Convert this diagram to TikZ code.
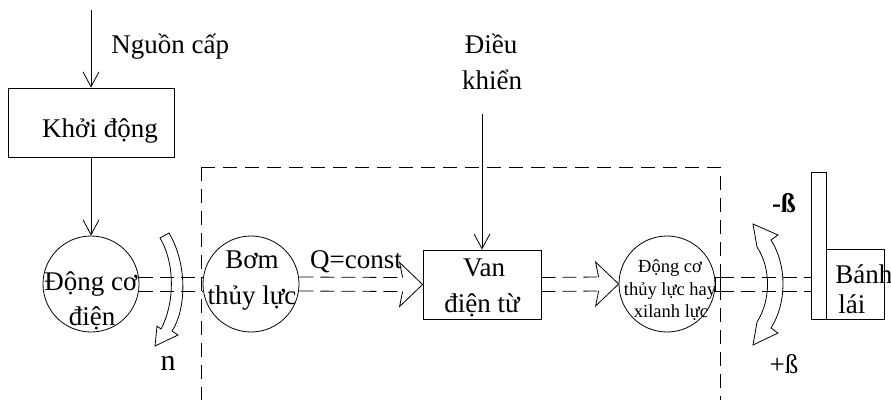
\documentclass[tikz,border=0pt]{standalone}
\usepackage{fontspec}
\setmainfont{Liberation Serif}
\usetikzlibrary{arrows.meta}

% open "fat" arrow head for the hydraulic flow, tip at #1
\newcommand\fathead[1]{%
  \draw[line join=miter] ([shift={(-20pt,7pt)}]#1) -- ([shift={(-23pt,22pt)}]#1) -- (#1)
    -- ([shift={(-23pt,-22pt)}]#1) -- ([shift={(-20pt,-7pt)}]#1);}

\begin{document}
\begin{tikzpicture}[x=1pt,y=-1pt,line width=0.8pt,
  blk/.style={draw,inner sep=0pt},
  unit/.style={draw,circle,inner sep=0pt,minimum size=96pt},
  txt/.style={inner sep=0pt,anchor=base,font=\fontsize{27}{32}\selectfont},
  small/.style={inner sep=0pt,anchor=base,font=\fontsize{18.5}{22}\selectfont},
  feed/.style={-{Straight Barb[length=15pt,width=16pt]}},
  shaft/.style={dash pattern=on 14pt off 7pt},
  frame/.style={dash pattern=on 14pt off 8pt}]
\useasboundingbox (0,0) rectangle (891,400);

% blocks
\node[blk,minimum width=166pt,minimum height=69pt] (kd) at (91,122.5) {};
\node[unit] (dc) at (91,284) {};
\node[unit] (bom) at (251,284) {};
\node[blk,minimum width=118pt,minimum height=69pt] (van) at (482,284.5) {};
\node[unit] (dtl) at (667,284) {};
\node[blk,minimum width=5pt,minimum height=14pt] (stub) at (717.5,284) {};
\node[blk,minimum width=15pt,minimum height=147pt] (bar) at (818.5,245.5) {};
\node[blk,minimum width=58pt,minimum height=70pt] (bl) at (855,284) {};

% control boundary (open at the bottom)
\coordinate (fa) at (201,167);
\coordinate (fb) at (201,400);
\coordinate (fc) at (720,167);
\coordinate (fd) at (720,400);
\draw[frame] (fa) -- (fb);
\draw[frame] (fa) -- (fc) -- (fd);

% supply and control inputs
\coordinate (src) at (91,10);
\coordinate (ctl) at (482,114);
\draw[feed] (src) -- (kd.north);
\draw[feed] (kd.south) -- (dc.north);
\draw[feed] (ctl) -- (van.north);

% mechanical / hydraulic links
\draw[shaft] ([yshift=7pt]dc.east) -- ([yshift=7pt]bom.west);
\draw[shaft] ([yshift=-7pt]dc.east) -- ([yshift=-7pt]bom.west);
\draw[shaft] ([yshift=7pt]bom.east) -- ([shift={(-20pt,7pt)}]van.west);
\draw[shaft] ([yshift=-7pt]bom.east) -- ([shift={(-20pt,-7pt)}]van.west);
\fathead{van.west}
\draw[shaft] ([yshift=7pt]van.east) -- ([shift={(-20pt,7pt)}]dtl.west);
\draw[shaft] ([yshift=-7pt]van.east) -- ([shift={(-20pt,-7pt)}]dtl.west);
\fathead{dtl.west}
\draw[shaft] ([yshift=7pt]stub.east) -- ([yshift=7pt]stub.east -| bar.west);
\draw[shaft] ([yshift=-7pt]stub.east) -- ([yshift=-7pt]stub.east -| bar.west);

% rotation arrow n
\draw[line join=miter] (160,238) -- (169,233) .. controls (188,265) and (186,310) .. (172,331)
  -- (178,335) -- (155,346) -- (157,326) -- (161,329)
  .. controls (174,305) and (176,265) .. (160,238) -- cycle;

% rudder angle arrow
\draw[line join=miter] (753,224) -- (778,235) -- (771,240)
  .. controls (787,265) and (787,303) .. (771,328) -- (778,333) -- (753,345)
  -- (757,322) .. controls (771,300) and (771,268) .. (757,247) -- cycle;

% labels
\node[txt,anchor=base west] (t1) at (111,53) {Nguồn cấp};
\node[txt] (t2) at (100,137) {Khởi động};
\node[txt] (t3) at (91,290) {Động cơ};
\node[txt] (t4) at (92,325) {điện};
\node[txt,font=\fontsize{30}{32}\selectfont] (t5) at (168,370) {n};
\node[txt] (t6) at (252,268) {Bơm};
\node[txt] (t7) at (252,304) {thủy lực};
\node[txt] (t8) at (356,268) {Q=const};
\node[txt] (t9) at (491,53) {Điều};
\node[txt] (t10) at (492,89) {khiển};
\node[txt] (t11) at (484,276) {Van};
\node[txt] (t12) at (482,312) {điện từ};
\node[small] (t13) at (670,272) {Động cơ};
\node[small] (t14) at (670,295) {thủy lực hay};
\node[small] (t15) at (671,317) {xilanh lực};
\node[txt,font=\fontsize{27}{30}\selectfont\bfseries] (t16) at (784,212) {-ß};
\node[txt,font=\fontsize{27}{30}\selectfont] (t17) at (784,373) {+ß};
\node[txt,anchor=base west] (t18) at (835,283) {Bánh};
\node[txt,anchor=base west] (t19) at (838,313) {lái};
\end{tikzpicture}
\end{document}
